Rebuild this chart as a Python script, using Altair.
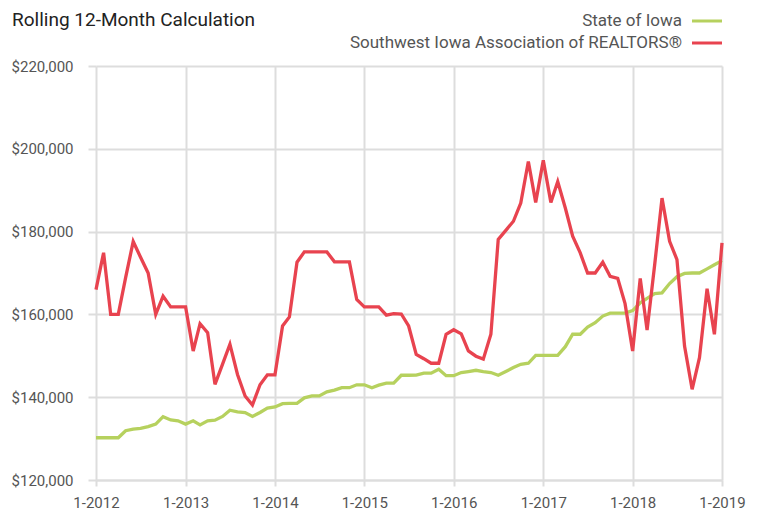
import altair as alt
import pandas as pd

# ---------------- data ----------------
months = pd.date_range("2012-01-01", "2019-01-01", freq="MS").strftime("%Y-%m-%d").tolist()

series_names = ["State of Iowa", "Southwest Iowa Association of REALTORS®"]
series_colors = ["#b6d15e", "#e8434f"]

iowa = [
    130200, 130200, 130200, 130200, 131900, 132300, 132450, 132900, 133500, 135300, 134500, 134300,
    133500, 134300, 133300, 134300, 134450, 135350, 136850, 136450, 136300, 135350, 136300, 137350,
    137650, 138450, 138500, 138500, 139850, 140300, 140300, 141300, 141700, 142300, 142300, 143000,
    143000, 142300, 142900, 143400, 143400, 145300, 145300, 145350, 145800, 145800, 146750, 145200,
    145200, 145950, 146200, 146500, 146200, 145950, 145300, 146200, 147150, 147950, 148200, 150100,
    150100, 150100, 150100, 152200, 155200, 155200, 156950, 158000, 159600, 160300, 160300, 160300,
    160900, 162800, 163850, 165000, 165200, 167450, 169100, 169900, 170000, 170000, 171000, 172000,
    173000,
]

swia = [
    166000, 174900, 160000, 160000, 168900, 177600, 173800, 170000, 160000, 164400, 161800, 161800,
    161800, 151150, 157750, 155600, 143100, 148000, 152800, 145500, 140300, 138100, 143000, 145400,
    145400, 157200, 159400, 172600, 175100, 175100, 175100, 175100, 172700, 172700, 172700, 163600,
    161800, 161800, 161800, 159800, 160200, 160100, 157200, 150350, 149300, 148200, 148200, 155200,
    156300, 155300, 151200, 149900, 149200, 155200, 178100, 180300, 182500, 186900, 196950, 187050,
    197200, 187050, 192100, 185700, 178900, 174850, 170000, 170000, 172600, 169200, 168700, 162600,
    151150, 168700, 156200, 172000, 188100, 177650, 173250, 152350, 141900, 149550, 166200, 155200,
    177300,
]

y_ticks = [120000, 140000, 160000, 180000, 200000, 220000]
year_ticks = [2012, 2013, 2014, 2015, 2016, 2017, 2018, 2019]
title_text = "Rolling 12-Month Calculation"

FONT = "Roboto"
GRID = "#dddddd"
LABEL = "#555555"

df = pd.DataFrame({
    "date": months + months,
    "value": iowa + swia,
    "series": [series_names[0]] * len(iowa) + [series_names[1]] * len(swia),
})

W, H = 626, 414

x_enc = alt.X(
    "date:T",
    scale=alt.Scale(
        type="utc",
        domain=[alt.DateTime(year=2012, month=1, date=1, utc=True),
                alt.DateTime(year=2019, month=1, date=1, utc=True)],
    ),
    axis=alt.Axis(
        values=[alt.DateTime(year=y, month=1, date=1, utc=True) for y in year_ticks],
        labelExpr="'1-' + utcFormat(datum.value, '%Y')", title=None,
        tickSize=6, labelPadding=9, domain=True, labelFlush=False, labelOverlap=False,
    ),
)
y_enc = alt.Y(
    "value:Q",
    scale=alt.Scale(domain=[120000, 220000], nice=False, zero=False),
    axis=alt.Axis(values=y_ticks, format="$,.0f", title=None, tickSize=8,
                  labelPadding=15, domain=False),
)

lines = alt.Chart(df).mark_line(strokeWidth=3.3, interpolate="linear").encode(
    x=x_enc,
    y=y_enc,
    color=alt.Color("series:N", scale=alt.Scale(domain=series_names, range=series_colors), legend=None),
    order=alt.Order("date:T"),
)

layers = [lines]

# title
layers.append(
    alt.Chart(pd.DataFrame({"t": [title_text]})).mark_text(
        align="left", baseline="top", font=FONT, fontSize=19, color="#222222"
    ).encode(text="t:N", x=alt.value(-84), y=alt.value(-55))
)

# legend (labels to the left of swatches)
legend_y = [-45, -23]
for name, col, ly in zip(series_names, series_colors, legend_y):
    d = pd.DataFrame({"name": [name]})
    layers.append(
        alt.Chart(d).mark_text(align="right", baseline="middle", font=FONT, fontSize=17, color=LABEL)
        .encode(text="name:N", x=alt.value(586), y=alt.value(ly))
    )
    layers.append(
        alt.Chart(d).mark_rule(strokeWidth=3, color=col)
        .encode(x=alt.value(596), x2=alt.value(626), y=alt.value(ly))
    )

chart = alt.layer(*layers).properties(
    width=W, height=H,
    autosize=alt.AutoSizeParams(type="none"),
    padding={"left": 88, "top": 58, "right": 29, "bottom": 33},
).configure_view(stroke=None).configure_axis(
    labelFont=FONT, labelFontSize=15, labelColor=LABEL,
    gridColor=GRID, gridWidth=2, tickColor=GRID, tickWidth=2,
    domainColor=GRID, domainWidth=2,
)

chart.save("out.html", embed_options={"renderer": "svg", "actions": False})
